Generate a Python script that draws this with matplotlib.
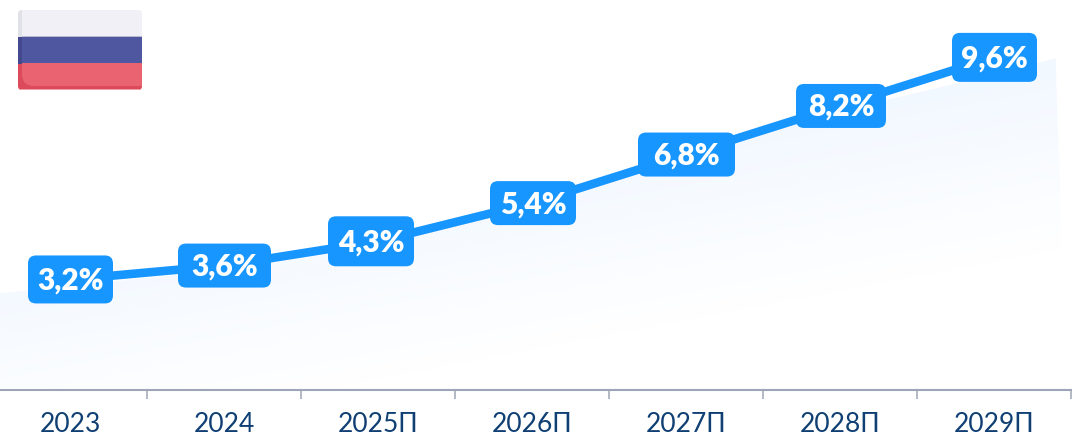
import numpy as np
import matplotlib
matplotlib.use("Agg")
import matplotlib.pyplot as plt
from matplotlib.patches import FancyBboxPatch, Rectangle, Polygon
from matplotlib.transforms import Affine2D

plt.rcParams['font.family'] = ['Lato', 'Noto Sans', 'DejaVu Sans']

years = ['2023', '2024', '2025П', '2026П', '2027П', '2028П', '2029П']
values = [3.2, 3.6, 4.3, 5.4, 6.8, 8.2, 9.6]
labels = ['3,2%', '3,6%', '4,3%', '5,4%', '6,8%', '8,2%', '9,6%']

# top edge of the pale area under the line
area_x = [-0.455, 0, 1, 2, 3, 4, 5, 6, 6.40]
area_y = [2.8, 3.02, 3.46, 4.15, 5.26, 6.66, 8.06, 9.1, 9.57]

# label boxes in pixels: width, height, x shift
box_w = [85, 93, 86, 86, 97, 90, 85]
box_h = [48, 44, 50, 44, 44, 44, 49]
box_dx = [0.5, 0.5, -7, 1, 0.5, 1, 0.5]

W, H = 1079, 435
BLUE = '#1896FF'
DARK = '#0F3F73'
AXIS = '#9EA5B8'

# the extra bit stops 4.35 * 100 rounding down to 434 rows
fig = plt.figure(figsize=((W + 0.01) / 100, (H + 0.01) / 100), dpi=100)
ax = fig.add_axes([0, 0, 1, 1])
px_x = 154
px_y = 34.7
base = 390.5  # pixel row of the axis line, counted from the top
xlim = (-70 / px_x, (W - 70) / px_x)
ylim = (-(H - base) / px_y, base / px_y)
ax.set_xlim(*xlim)
ax.set_ylim(*ylim)

# tilted gradient, pale blue to white
yy, xx = np.mgrid[0:H, 0:W]
t = np.clip((yy + 0.19 * xx - 235) / 215, 0, 1)
top = np.array([240, 247, 255]) / 255
img = top[None, None, :] + (1 - top)[None, None, :] * t[:, :, None]
im = ax.imshow(img, extent=[*xlim, *ylim], origin='upper', aspect='auto', zorder=1)
ax.set_xlim(*xlim)
ax.set_ylim(*ylim)
area = Polygon(list(zip(area_x, area_y)) + [(6.47, 0.08), (area_x[0], 0.08)],
               closed=True, transform=ax.transData, fc='none', ec='none')
ax.add_patch(area)
im.set_clip_path(area)

ax.plot(range(len(values)), values, color=BLUE, lw=6.2, zorder=3,
        solid_capstyle='butt')

fig.canvas.draw()
for i, v in enumerate(values):
    cx, cy = ax.transData.transform((i, v))
    tr = Affine2D().translate(cx + box_dx[i], cy)
    w, h = box_w[i], box_h[i]
    box = FancyBboxPatch((-w / 2 + 8, -h / 2 + 8), w - 16, h - 16,
                         boxstyle='round,pad=8,rounding_size=8',
                         fc=BLUE, ec='none', transform=tr, zorder=4)
    ax.add_patch(box)
    ax.text(0, -1, labels[i], color='white', fontsize=21.5, fontweight='heavy',
            ha='center', va='center', transform=tr, zorder=5)

# axis with ticks between the categories
for s in ['top', 'left', 'right']:
    ax.spines[s].set_visible(False)
ax.spines['bottom'].set_position(('data', 0))
ax.spines['bottom'].set_bounds(xlim[0], 6.5)
ax.spines['bottom'].set_color(AXIS)
ax.spines['bottom'].set_linewidth(1.5)
ax.set_yticks([])
ax.set_xticks(np.arange(len(years)) + 0.5)
ax.set_xticklabels([])
ax.tick_params(axis='x', which='major', direction='out', length=6.5, width=1.1, color=AXIS)
ax.set_xticks(range(len(years)), minor=True)
ax.set_xticklabels(years, minor=True, color=DARK, fontsize=19)
ax.tick_params(axis='x', which='minor', length=0, pad=15.5)
ax.patch.set_alpha(0)

# flag
fa = fig.add_axes([18 / W, 1 - 90 / H, 124 / W, 80 / H])
fa.set_xlim(0, 124)
fa.set_ylim(80, 0)
fa.axis('off')
clip = FancyBboxPatch((3, 3), 118, 74, boxstyle='round,pad=3,rounding_size=4',
                      fc='none', ec='none', transform=fa.transData)
fa.add_patch(clip)
parts = [
    (0, 0, 124, 27, '#F0F0F6'),
    (0, 26, 124, 1.5, '#B9BAD2'),
    (0, 27, 124, 27, '#4F57A0'),
    (0, 53.5, 124, 26.5, '#DC4A5C'),
    (0, 0, 4, 27, '#E1E1E8'),
    (0, 27, 4, 27, '#43488F'),
    (0, 79, 124, 1, '#F0A0A8'),
]
for x0, y0, w, h, c in parts:
    r = Rectangle((x0, y0), w, h, fc=c, ec='none')
    fa.add_patch(r)
    r.set_clip_path(clip)
# lighter red with a rounded inner corner over the shaded edge
red = FancyBboxPatch((16, 40), 130, 24, boxstyle='round,pad=12,rounding_size=12',
                     fc='#E96470', ec='none', transform=fa.transData)
fa.add_patch(red)
red_clip = Rectangle((0, 53.5), 124, 26.5, transform=fa.transData)
red.set_clip_path(red_clip)

fig.savefig('out.png', dpi=100)
